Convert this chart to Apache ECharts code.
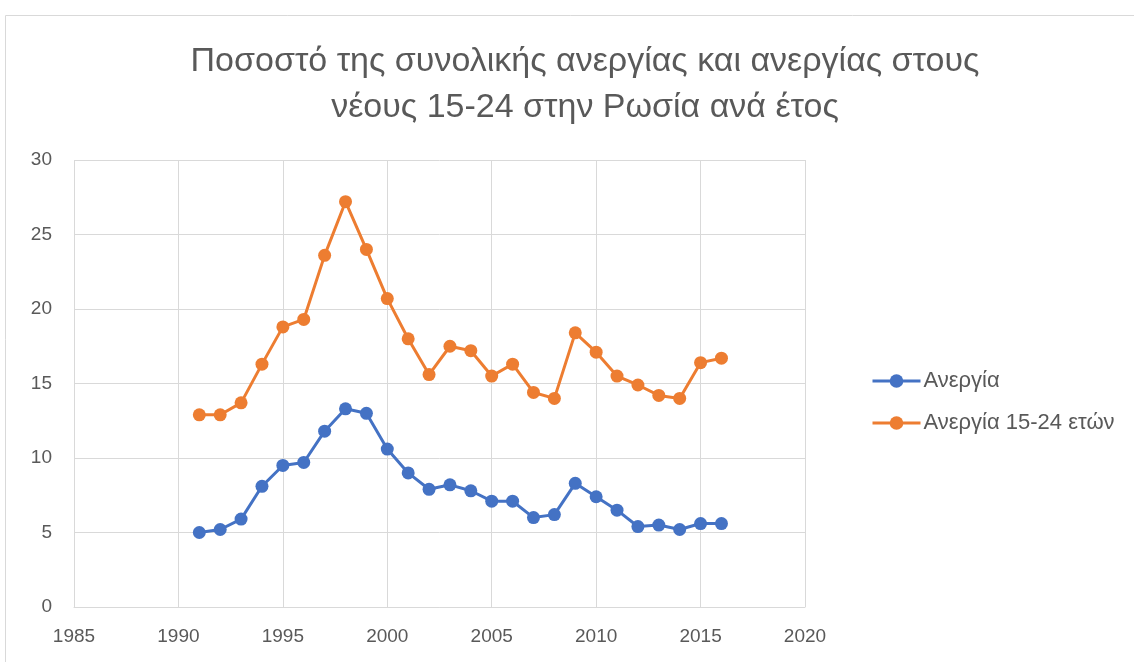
<!DOCTYPE html>
<html>
<head>
<meta charset="utf-8">
<script src="https://cdn.jsdelivr.net/npm/echarts@6/dist/echarts.min.js"></script>
<style>
  html, body { margin: 0; padding: 0; background: #fff; }
  #chart { width: 1134px; height: 662px; }
</style>
</head>
<body>
<div id="chart"></div>
<script>
  // data
  var years = [1991, 1992, 1993, 1994, 1995, 1996, 1997, 1998, 1999, 2000, 2001, 2002, 2003,
               2004, 2005, 2006, 2007, 2008, 2009, 2010, 2011, 2012, 2013, 2014, 2015, 2016];
  var unemployment = [5.0, 5.2, 5.9, 8.1, 9.5, 9.7, 11.8, 13.3, 13.0, 10.6, 9.0, 7.9, 8.2,
                      7.8, 7.1, 7.1, 6.0, 6.2, 8.3, 7.4, 6.5, 5.4, 5.5, 5.2, 5.6, 5.6];
  var youthUnemployment = [12.9, 12.9, 13.7, 16.3, 18.8, 19.3, 23.6, 27.2, 24.0, 20.7, 18.0, 15.6, 17.5,
                           17.2, 15.5, 16.3, 14.4, 14.0, 18.4, 17.1, 15.5, 14.9, 14.2, 14.0, 16.4, 16.7];
  var seriesNames = ['Ανεργία', 'Ανεργία 15-24 ετών'];

  function pairs(vals) {
    return years.map(function (y, i) { return [y, vals[i]]; });
  }

  var font = 'Liberation Sans, Arial, sans-serif';
  var chart = echarts.init(document.getElementById('chart'));
  var option = {
    animation: false,
    textStyle: { fontFamily: font },
    graphic: [{
      type: 'rect',
      shape: { x: 5.5, y: 15.5, width: 1150, height: 700 },
      style: { fill: 'none', stroke: '#d9d9d9', lineWidth: 1 },
      silent: true
    }],
    title: {
      text: 'Ποσοστό της συνολικής ανεργίας και ανεργίας στους\nνέους 15-24 στην Ρωσία ανά έτος',
      left: 580,
      textAlign: 'center',
      top: 34,
      textStyle: {
        fontFamily: font,
        fontSize: 34,
        fontWeight: 'normal',
        color: '#595959',
        lineHeight: 46
      }
    },
    legend: {
      orient: 'vertical',
      left: 866,
      top: 365,
      itemGap: 20,
      itemWidth: 48,
      itemHeight: 17,
      data: seriesNames,
      lineStyle: { width: 3 },
      textStyle: { fontFamily: font, fontSize: 22, color: '#595959', padding: [0, 0, 0, -2] }
    },
    grid: { left: 74, right: 329, top: 160, bottom: 55 },
    xAxis: {
      type: 'value',
      min: 1985,
      max: 2020,
      interval: 5,
      axisLine: { show: true, lineStyle: { color: '#d9d9d9', width: 1 } },
      axisTick: { show: false },
      axisLabel: {
        fontFamily: font, fontSize: 19, color: '#595959', margin: 20,
        formatter: function (v) { return String(v); }
      },
      splitLine: { show: true, lineStyle: { color: '#d9d9d9', width: 1 } }
    },
    yAxis: {
      type: 'value',
      min: 0,
      max: 30,
      interval: 5,
      axisLine: { show: false },
      axisTick: { show: false },
      axisLabel: { fontFamily: font, fontSize: 19, color: '#595959', margin: 22 },
      splitLine: { show: true, lineStyle: { color: '#d9d9d9', width: 1 } }
    },
    series: [
      {
        name: seriesNames[0],
        type: 'line',
        data: pairs(unemployment),
        symbol: 'circle',
        symbolSize: 13,
        color: '#4472C4',
        lineStyle: { width: 3 }
      },
      {
        name: seriesNames[1],
        type: 'line',
        data: pairs(youthUnemployment),
        symbol: 'circle',
        symbolSize: 13,
        color: '#ED7D31',
        lineStyle: { width: 3 }
      }
    ]
  };
  chart.setOption(option);
</script>
</body>
</html>
